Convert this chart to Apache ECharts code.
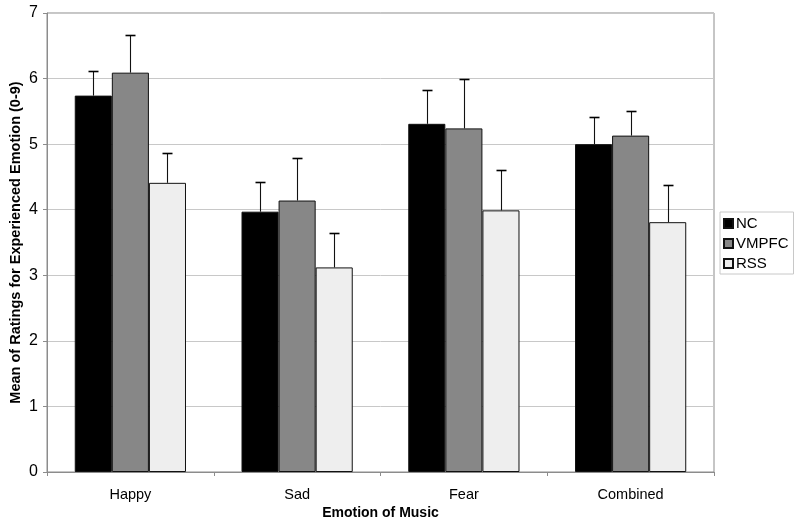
<!DOCTYPE html>
<html>
<head>
<meta charset="utf-8">
<script src="https://cdn.jsdelivr.net/npm/echarts@6/dist/echarts.min.js"></script>
<style>
html,body{margin:0;padding:0;background:#fff;}
#chart{width:800px;height:528px;}
</style>
</head>
<body>
<div id="chart"></div>
<script>
var categories = ['Happy', 'Sad', 'Fear', 'Combined'];
var seriesNames = ['NC', 'VMPFC', 'RSS'];
var ncMean = [5.74, 3.97, 5.31, 5.00];
var ncUpper = [6.12, 4.42, 5.83, 5.41];
var vmpfcMean = [6.09, 4.14, 5.24, 5.13];
var vmpfcUpper = [6.66, 4.79, 6.00, 5.51];
var rssMean = [4.41, 3.12, 3.99, 3.81];
var rssUpper = [4.87, 3.64, 4.61, 4.38];
var yTicks = [0, 1, 2, 3, 4, 5, 6, 7];

var FONT = 'Liberation Sans, Arial, sans-serif';
var GAP = 0.333;
var colors = ['#000000', '#878787', '#eeeeee'];
var means = [ncMean, vmpfcMean, rssMean];
var uppers = [ncUpper, vmpfcUpper, rssUpper];

function errSeries(k) {
  return {
    type: 'custom',
    name: seriesNames[k] + ' err',
    z: 5,
    silent: true,
    data: categories.map(function (c, i) { return [i, means[k][i], uppers[k][i]]; }),
    renderItem: function (params, api) {
      var ci = api.value(0);
      var base = api.coord([ci, api.value(1)]);
      var top = api.coord([ci, api.value(2)]);
      var catW = api.size([1, 0])[0];
      var bw = catW * (1 - GAP) / 3;
      var x = Math.round(base[0] + (k - 1) * bw) + 0.5;
      var y0 = base[1], y1 = Math.round(top[1]) + 0.5;
      return {
        type: 'group',
        children: [
          { type: 'line', shape: { x1: x, y1: y0, x2: x, y2: y1 }, style: { stroke: '#111', lineWidth: 1.1 } },
          { type: 'line', shape: { x1: x - 5, y1: y1, x2: x + 5, y2: y1 }, style: { stroke: '#000', lineWidth: 1.6 } }
        ]
      };
    }
  };
}

var series = [];
for (var k = 0; k < 3; k++) {
  series.push({
    type: 'bar',
    name: seriesNames[k],
    data: means[k],
    barGap: '0%',
    barCategoryGap: (GAP * 100) + '%',
    itemStyle: { color: colors[k], borderColor: '#111', borderWidth: 1 },
    emphasis: { disabled: true },
    animation: false
  });
}
for (var k2 = 0; k2 < 3; k2++) series.push(errSeries(k2));

var chart = echarts.init(document.getElementById('chart'), null, { renderer: 'canvas' });
chart.setOption({
  animation: false,
  backgroundColor: '#ffffff',
  textStyle: { fontFamily: FONT },
  grid: { left: 47, right: 86, top: 13, bottom: 56, show: true, borderColor: '#8c8c8c', borderWidth: 1, containLabel: false, outerBoundsMode: 'none' },
  legend: {
    data: seriesNames,
    orient: 'vertical',
    left: 720,
    top: 212,
    icon: 'rect',
    itemWidth: 9,
    itemHeight: 9,
    itemGap: 5,
    padding: [4, 5, 3, 3],
    borderColor: '#c8c8c8',
    borderWidth: 1,
    textStyle: { fontFamily: FONT, fontSize: 15, color: '#000', padding: [0, 0, 0, -2] }
  },
  xAxis: {
    type: 'category',
    data: categories,
    name: 'Emotion of Music',
    nameLocation: 'middle',
    nameGap: 34,
    nameMoveOverlap: false,
    nameTextStyle: { fontFamily: FONT, fontSize: 14, fontWeight: 'bold', color: '#000' },
    axisLine: { lineStyle: { color: '#8c8c8c', width: 1 } },
    axisTick: { show: true, length: 4, lineStyle: { color: '#8c8c8c' } },
    axisLabel: { fontFamily: FONT, fontSize: 14.5, color: '#000', margin: 15 },
    splitLine: { show: false }
  },
  yAxis: {
    type: 'value',
    min: yTicks[0],
    max: yTicks[yTicks.length - 1],
    interval: 1,
    name: 'Mean of Ratings for Experienced Emotion (0-9)',
    nameLocation: 'middle',
    nameGap: 24,
    nameMoveOverlap: false,
    nameTextStyle: { fontFamily: FONT, fontSize: 14.5, fontWeight: 'bold', color: '#000' },
    axisLine: { show: true, lineStyle: { color: '#8c8c8c', width: 1 } },
    axisTick: { show: true, length: 4, lineStyle: { color: '#8c8c8c' } },
    axisLabel: { fontFamily: FONT, fontSize: 16, color: '#000', margin: 9 },
    splitLine: { show: true, lineStyle: { color: '#c8c8c8', width: 1 } }
  },
  series: series
});
</script>
</body>
</html>
